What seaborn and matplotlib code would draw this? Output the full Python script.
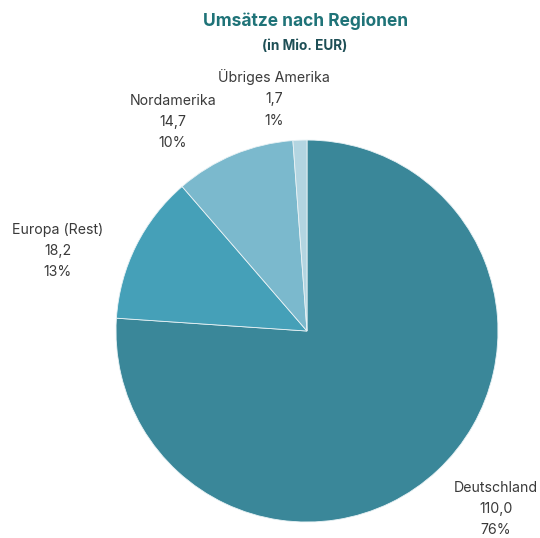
import numpy as np
import seaborn as sns
import matplotlib.pyplot as plt

# Daten
regionen = ['Deutschland', 'Europa (Rest)', 'Nordamerika', 'Übriges Amerika']
umsatz = [110.0, 18.2, 14.7, 1.7]
prozent_labels = ['76%', '13%', '10%', '1%']
farben = ['#3a8799', '#45a0b8', '#7bb9cd', '#b3d5e1']

sns.set_theme(style='white')
plt.rcParams['font.family'] = ['Inter', 'DejaVu Sans']

fig = plt.figure(figsize=(5.4, 5.38), dpi=100)
fig.patch.set_facecolor('white')
ax = fig.add_axes([0.2148, 0.0297, 0.7074, 0.710])

wedges, _ = ax.pie(umsatz, colors=farben, startangle=90, counterclock=False,
                   wedgeprops={'linewidth': 0.6, 'edgecolor': '#e8f2f5'})
ax.set_xlim(-1, 1)
ax.set_ylim(-1, 1)
ax.set_aspect('equal')
ax.axis('off')

# Beschriftungen ausserhalb (Abstand, Winkelverschiebung)
offsets = [(1.36, 3.6), (1.37, 8.7), (1.30, 10.2), (1.23, 6)]
for w, name, wert, pct, (dist, shift) in zip(wedges, regionen, umsatz, prozent_labels, offsets):
    ang = np.deg2rad((w.theta1 + w.theta2) / 2 + shift)
    txt = f"{name}\n{wert:.1f}".replace('.', ',') + f"\n{pct}"
    ax.text(dist * np.cos(ang), dist * np.sin(ang), txt, ha='center', va='center',
            fontsize=10.2, color='#3a3a3a', linespacing=1.65, clip_on=False)

fig.text(0.565, 0.961, 'Umsätze nach Regionen', ha='center', va='center',
         fontsize=12.5, fontweight='bold', color='#1f7378')
fig.text(0.565, 0.915, '(in Mio. EUR)', ha='center', va='center',
         fontsize=9.8, fontweight='bold', color='#1e4f56')

fig.savefig('out.png', dpi=100)
